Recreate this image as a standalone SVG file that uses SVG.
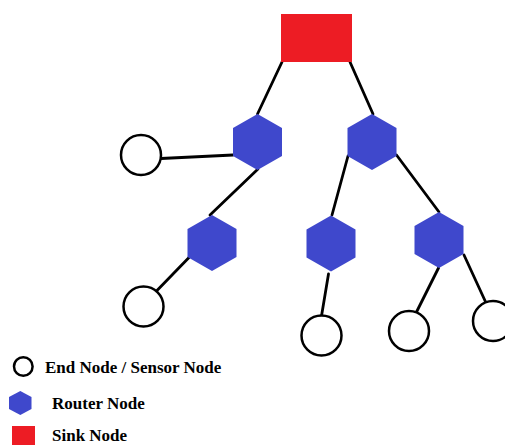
<svg xmlns="http://www.w3.org/2000/svg" xmlns:xlink="http://www.w3.org/1999/xlink" width="505" height="445" viewBox="0 0 505 445">
<style>
.edge{stroke:#000;stroke-width:2.8;fill:none;stroke-linecap:round}
.end{fill:#fff;stroke:#000;stroke-width:2.5}
.router{fill:#3F48CC}
.sink{fill:#ED1C24}
.lbl{font-family:"Liberation Serif","Times New Roman",serif;font-weight:bold;font-size:17px;fill:#000}
</style>
<defs>
<polygon id="hex" points="0,-28 24.5,-14 24.5,14 0,28 -24.5,14 -24.5,-14"/>
</defs>
<rect width="505" height="445" fill="#fff"/>
<g id="connectors">
<line class="edge" x1="282" y1="62" x2="257.5" y2="114"/>
<line class="edge" x1="350" y1="62" x2="373" y2="114"/>
<line class="edge" x1="161" y1="158.5" x2="233" y2="155"/>
<line class="edge" x1="258" y1="169" x2="210" y2="215"/>
<line class="edge" x1="189" y1="257.5" x2="156.5" y2="291"/>
<line class="edge" x1="348" y1="156" x2="332" y2="215"/>
<line class="edge" x1="396.5" y1="155" x2="439" y2="212"/>
<line class="edge" x1="328.5" y1="274" x2="321.5" y2="316"/>
<line class="edge" x1="438.5" y1="268" x2="417" y2="311"/>
<line class="edge" x1="464" y1="255" x2="487" y2="305"/>
</g>
<g id="sink"><rect class="sink" x="281" y="14" width="71" height="48"/></g>
<g id="router1"><use xlink:href="#hex" class="router" x="257.5" y="142"/></g>
<g id="router2"><use xlink:href="#hex" class="router" x="372" y="142"/></g>
<g id="router3"><use xlink:href="#hex" class="router" x="212" y="243"/></g>
<g id="router4"><use xlink:href="#hex" class="router" x="331" y="243.5"/></g>
<g id="router5"><use xlink:href="#hex" class="router" x="439" y="240"/></g>
<g id="end1"><circle class="end" cx="141" cy="155" r="20"/></g>
<g id="end2"><circle class="end" cx="143.5" cy="306.5" r="20"/></g>
<g id="end3"><circle class="end" cx="321.5" cy="335.5" r="20"/></g>
<g id="end4"><circle class="end" cx="409" cy="331" r="20"/></g>
<g id="end5"><circle class="end" cx="493" cy="321" r="20"/></g>
<g id="legend">
<circle class="end" cx="23.3" cy="366.5" r="9.3"/>
<text class="lbl" x="45" y="373">End Node / Sensor Node</text>
<polygon class="router" points="20.3,391 31.5,397 31.5,409 20.3,415 9,409 9,397"/>
<text class="lbl" x="52" y="408.5">Router Node</text>
<rect class="sink" x="12" y="426" width="23" height="20"/>
<text class="lbl" x="52" y="440.5">Sink Node</text>
</g>
</svg>
